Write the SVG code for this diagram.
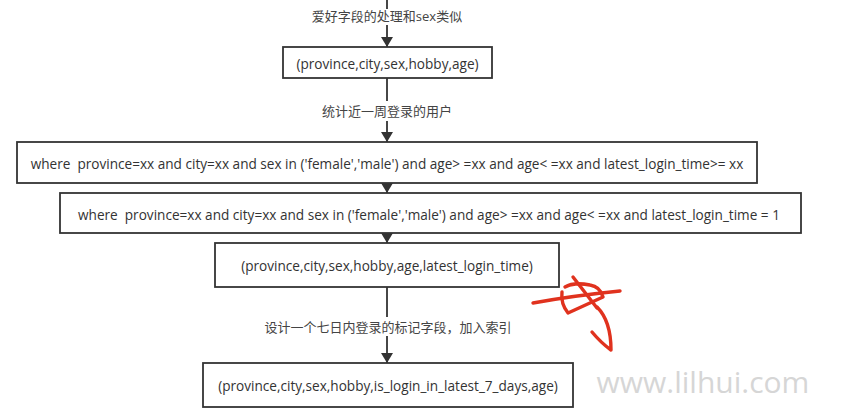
<svg xmlns="http://www.w3.org/2000/svg" width="866" height="419" viewBox="0 0 866 419">
<style>
.box{fill:#fff;stroke:#333;stroke-width:1.8}
.t{font-family:"Open Sans","Noto Sans CJK SC",sans-serif;font-size:13.6px;fill:#333;text-anchor:middle;dominant-baseline:central;white-space:pre}
.lbl{font-family:"Open Sans","Noto Sans CJK SC",sans-serif;font-size:13px;fill:#444;text-anchor:middle;dominant-baseline:central}
.ln{stroke:#333;stroke-width:1.8;fill:none}
.red{stroke:#e0321e;stroke-width:3.4;fill:none;stroke-linecap:round;stroke-linejoin:round}
</style>
<defs>
<marker id="ah" viewBox="0 0 10 12" refX="10" refY="6" markerWidth="10" markerHeight="12" markerUnits="userSpaceOnUse" orient="auto">
<path d="M0,0 L10,6 L0,12 z" fill="#333"/>
</marker>
</defs>
<rect width="866" height="419" fill="#fff"/>
<g id="connectors">
<line class="ln" x1="387" y1="0" x2="387" y2="9"/>
<line class="ln" x1="387" y1="25" x2="387" y2="47" marker-end="url(#ah)"/>
<line class="ln" x1="387" y1="78" x2="387" y2="101"/>
<line class="ln" x1="387" y1="121" x2="387" y2="142" marker-end="url(#ah)"/>
<line class="ln" x1="387" y1="183" x2="387" y2="193" marker-end="url(#ah)"/>
<line class="ln" x1="387" y1="233" x2="387" y2="243" marker-end="url(#ah)"/>
<line class="ln" x1="387" y1="287" x2="387" y2="317"/>
<line class="ln" x1="387" y1="336" x2="387" y2="363" marker-end="url(#ah)"/>
<text class="lbl" x="387" y="16">爱好字段的处理和sex类似</text>
<text class="lbl" x="387" y="111">统计近一周登录的用户</text>
<text class="lbl" x="388" y="327">设计一个七日内登录的标记字段，加入索引</text>
</g>
<g id="n1">
<rect class="box" x="283" y="47" width="209" height="31"/>
<text class="t" x="387.5" y="63">(province,city,sex,hobby,age)</text>
</g>
<g id="n2">
<rect class="box" x="17" y="142" width="740" height="41"/>
<text class="t" x="387" y="163" xml:space="preserve">where  province=xx and city=xx and sex in ('female','male') and age&gt; =xx and age&lt; =xx and latest_login_time&gt;= xx</text>
</g>
<g id="n3">
<rect class="box" x="60" y="193" width="741" height="40"/>
<text class="t" x="429" y="214" xml:space="preserve">where  province=xx and city=xx and sex in ('female','male') and age&gt; =xx and age&lt; =xx and latest_login_time = 1</text>
</g>
<g id="n4">
<rect class="box" x="215" y="243" width="344" height="44"/>
<text class="t" x="387" y="265">(province,city,sex,hobby,age,latest_login_time)</text>
</g>
<g id="n5">
<rect class="box" x="203" y="363" width="370" height="44"/>
<text class="t" x="388" y="385">(province,city,sex,hobby,is_login_in_latest_7_days,age)</text>
</g>
<g id="scribble">
<path class="red" d="M533,303 C555,299 590,294 620,291"/>
<path class="red" d="M573,277 L597,308"/>
<path class="red" d="M562,292 C561,300 564,308 568,313 L603,297 C601,290 597,286 590,285 C580,283 570,284 565,287"/>
<path class="red" d="M597,307 C606,316 611,330 611,350 C604,345 597,338 592,332"/>
</g>
<text x="703" y="381" font-family="Open Sans, sans-serif" font-size="30" fill="#d6d6d6" text-anchor="middle" dominant-baseline="central">www.lilhui.com</text>
</svg>
